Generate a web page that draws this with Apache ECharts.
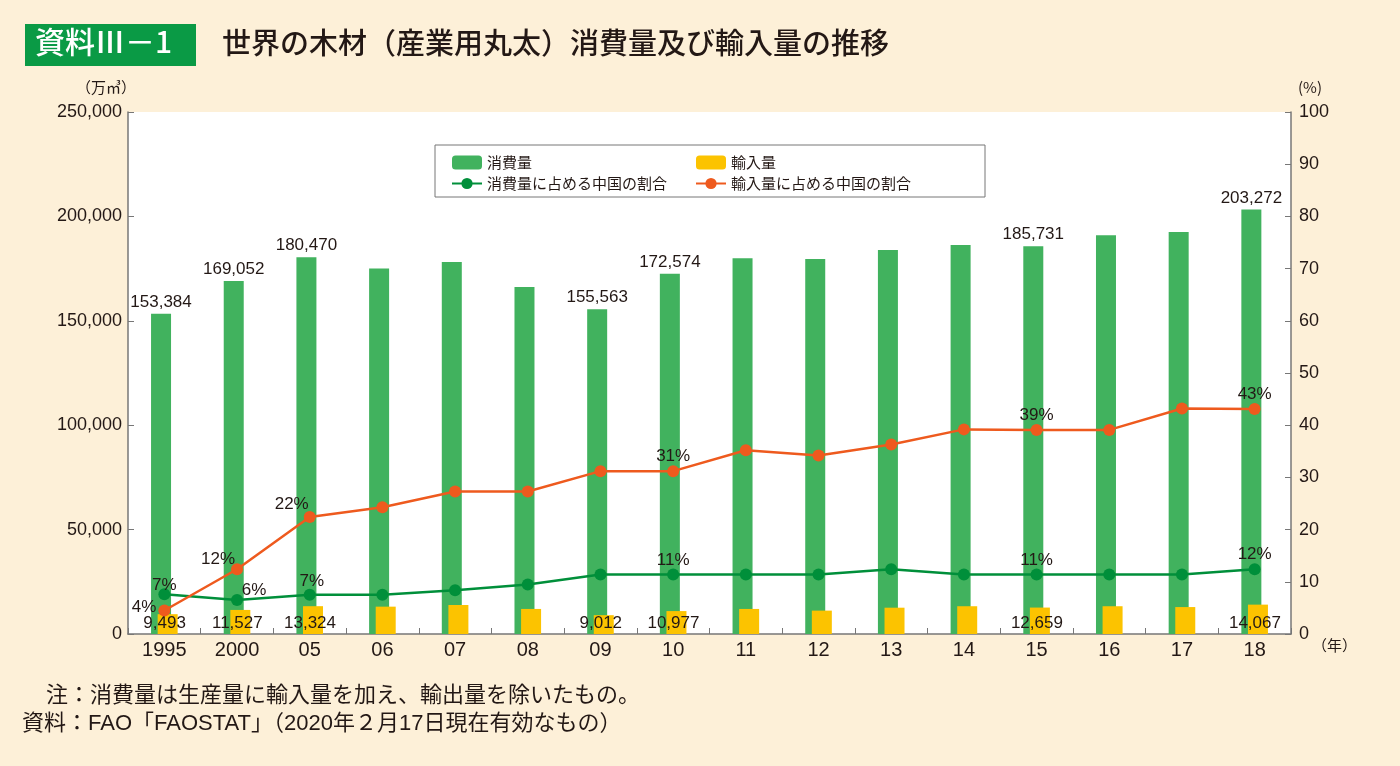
<!DOCTYPE html>
<html>
<head>
<meta charset="utf-8">
<script src="https://cdn.jsdelivr.net/npm/echarts@6/dist/echarts.min.js"></script>
<style>
html,body{margin:0;padding:0;background:#fdf0d8;}
#c{width:1400px;height:766px;}
</style>
</head>
<body>
<div id="c"></div>
<script>
const years = ['1995','2000','05','06','07','08','09','10','11','12','13','14','15','16','17','18'];
const consumption = [153384,169052,180470,175000,178200,166200,155563,172574,180000,179600,183900,186300,185731,191000,192500,203272];
const imports = [9493,11527,13324,13100,13900,12000,9012,10977,12000,11200,12600,13300,12659,13300,12900,14067];
const chinaShareConsumption = [7.6,6.5,7.5,7.5,8.4,9.5,11.4,11.4,11.4,11.4,12.4,11.4,11.4,11.4,11.4,12.4];
const chinaShareImports = [4.5,12.4,22.4,24.3,27.3,27.3,31.2,31.2,35.2,34.2,36.3,39.2,39.1,39.1,43.2,43.1];
const labeledIdx = [0,1,2,6,7,12,15];
const leftTicks = [0,50000,100000,150000,200000,250000];
const rightTicks = [0,10,20,30,40,50,60,70,80,90,100];

const NUM = '"Liberation Sans","Noto Sans CJK JP",sans-serif';
const JP = '"Noto Sans CJK JP",sans-serif';
const fmt = v => Number(v).toLocaleString('en-US');

const greenLabelCfg = {
  0: {position:'top', offset:[0,5]},
  1: {position:'top', offset:[17,5]},
  2: {position:'top', offset:[2,1]},
  7: {position:'top', offset:[0,0]},
  12:{position:'top', offset:[0,0]},
  15:{position:'top', offset:[0,0]}
};
const orangeLabelCfg = {
  0: {position:'left', distance:2, offset:[0,-3]},
  1: {position:'top', offset:[-19,5]},
  2: {position:'top', offset:[-18,2]},
  7: {position:'top', offset:[0,0]},
  12:{position:'top', offset:[0,0]},
  15:{position:'top', offset:[0,0]}
};
const lblBase = {color:'#231815', fontSize:17, fontFamily:NUM, distance:0, formatter: p => Math.floor(p.value) + '%'};

const chart = echarts.init(document.getElementById('c'));
chart.setOption({
  backgroundColor:'#fdf0d8',
  animation:false,
  textStyle:{fontFamily:JP},
  graphic:[
    {type:'rect', shape:{x:25,y:24,width:171,height:42}, style:{fill:'#0a9a45'}, z:10},
    {type:'text', left:35, top:27, style:{text:'資料Ⅲ－1', fill:'#fff', font:'500 30px "Noto Sans CJK JP"'}, z:11},
    {type:'text', left:222, top:28, style:{text:'世界の木材（産業用丸太）消費量及び輸入量の推移', fill:'#231815', font:'500 29px "Noto Sans CJK JP"'}, z:11},
    {type:'text', left:76, top:80, style:{text:'（万㎥）', fill:'#231815', font:'15px "Noto Sans CJK JP"'}},
    {type:'text', left:1298, top:80, style:{text:'(%)', fill:'#231815', font:'15px "Noto Sans CJK JP"'}},
    {type:'text', left:1312, top:638, style:{text:'（年）', fill:'#231815', font:'15px "Noto Sans CJK JP"'}},
    {type:'rect', shape:{x:435,y:145,width:550,height:52}, style:{fill:'#fff', stroke:'#777', lineWidth:1}, z:3},
    {type:'text', left:46, top:683, style:{text:'注：消費量は生産量に輸入量を加え、輸出量を除いたもの。', fill:'#231815', font:'22px "Noto Sans CJK JP"'}},
    {type:'text', left:22, top:713, style:{text:'資料：FAO「FAOSTAT」（2020年２月17日現在有効なもの）', fill:'#231815', font:'22px "Liberation Sans","Noto Sans CJK JP"'}}
  ],
  legend:[
    {left:446, top:150, orient:'vertical', itemGap:6, itemWidth:30, itemHeight:14,
     data:['消費量','消費量に占める中国の割合'], textStyle:{fontSize:15, color:'#231815', fontFamily:JP}, z:5},
    {left:690, top:150, orient:'vertical', itemGap:6, itemWidth:30, itemHeight:14,
     data:['輸入量','輸入量に占める中国の割合'], textStyle:{fontSize:15, color:'#231815', fontFamily:JP}, z:5}
  ],
  grid:{left:128, right:109, top:112, bottom:132, show:true, backgroundColor:'#fff', borderWidth:0},
  xAxis:{
    type:'category', data:years,
    axisLine:{lineStyle:{color:'#777', width:1.5}},
    axisTick:{show:true, inside:true, length:6, lineStyle:{color:'#777'}},
    axisLabel:{color:'#231815', fontSize:20, fontFamily:NUM, margin:6}
  },
  yAxis:[
    {type:'value', min:0, max:250000, interval:50000,
     axisLine:{show:true, lineStyle:{color:'#777', width:1.5}},
     axisTick:{show:true, inside:true, length:6, lineStyle:{color:'#777'}},
     splitLine:{show:false},
     axisLabel:{color:'#231815', fontSize:18, fontFamily:NUM, margin:6, formatter: v => fmt(v)}},
    {type:'value', min:0, max:100, interval:10,
     axisLine:{show:true, lineStyle:{color:'#777', width:1.5}},
     axisTick:{show:true, inside:true, length:6, lineStyle:{color:'#777'}},
     splitLine:{show:false},
     axisLabel:{color:'#231815', fontSize:18, fontFamily:NUM, margin:8}}
  ],
  series:[
    {name:'消費量', type:'bar', yAxisIndex:0, barWidth:20, barGap:'-67%',
     itemStyle:{color:'#41b25e'},
     data: consumption.map((v,i)=>({value:v, label:{show: labeledIdx.includes(i)}})),
     label:{position:'top', distance:3, color:'#231815', fontSize:17, fontFamily:NUM, formatter:p=>fmt(p.value)}},
    {name:'輸入量', type:'bar', yAxisIndex:0, barWidth:20,
     itemStyle:{color:'#fcc300'},
     data: imports.map((v,i)=>({value:v, label:{show: labeledIdx.includes(i)}})),
     label:{position:'insideBottom', distance:2, offset:[-3,0], color:'#231815', fontSize:17, fontFamily:NUM, formatter:p=>fmt(p.value)}},
    {name:'消費量に占める中国の割合', type:'line', yAxisIndex:1, symbol:'circle', symbolSize:12,
     itemStyle:{color:'#008f3a'}, lineStyle:{color:'#008f3a', width:2.5}, z:4,
     data: chinaShareConsumption.map((v,i)=>({value:v, label: greenLabelCfg[i] ? Object.assign({show:true}, lblBase, greenLabelCfg[i]) : {show:false}}))},
    {name:'輸入量に占める中国の割合', type:'line', yAxisIndex:1, symbol:'circle', symbolSize:12,
     itemStyle:{color:'#ee5a1e'}, lineStyle:{color:'#ee5a1e', width:2.5}, z:4,
     data: chinaShareImports.map((v,i)=>({value:v, label: orangeLabelCfg[i] ? Object.assign({show:true}, lblBase, orangeLabelCfg[i]) : {show:false}}))}
  ]
});
</script>
</body>
</html>
